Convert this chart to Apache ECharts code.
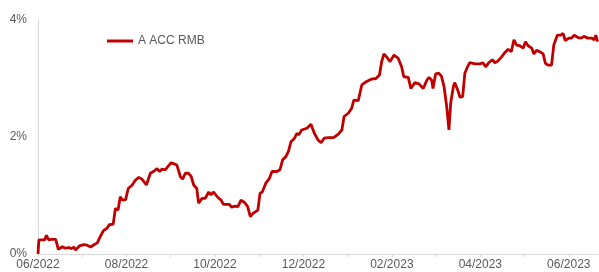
<!DOCTYPE html>
<html>
<head>
<meta charset="utf-8">
<script src="https://cdn.jsdelivr.net/npm/echarts@6/dist/echarts.min.js"></script>
<style>
  html, body { margin: 0; padding: 0; background: #fff; }
  #chart { width: 599px; height: 272px; }
</style>
</head>
<body>
<div id="chart"></div>
<script>
// x axis is measured in months since 06/2022
const monthLabels = ['06/2022', '07/2022', '08/2022', '09/2022', '10/2022', '11/2022', '12/2022',
  '01/2023', '02/2023', '03/2023', '04/2023', '05/2023', '06/2023'];
const yTicks = [0, 2, 4];
const seriesName = 'A ACC RMB';

const months = [
  0, 0.02, 0.15, 0.19, 0.24, 0.30, 0.40, 0.46, 0.55, 0.62, 0.70, 0.76, 0.81, 0.85, 0.89, 0.94,
  1.03, 1.11, 1.19, 1.25, 1.34, 1.41, 1.48, 1.56, 1.61, 1.70, 1.75, 1.81, 1.86, 1.91, 1.98,
  2.04, 2.13, 2.20, 2.28, 2.35, 2.45, 2.54, 2.61, 2.69, 2.75, 2.80, 2.88, 2.93,
  3.01, 3.08, 3.14, 3.22, 3.27, 3.33, 3.40, 3.46, 3.52, 3.59, 3.63, 3.71, 3.78, 3.86, 3.91, 3.97,
  4.06, 4.14, 4.19, 4.32, 4.38, 4.46, 4.52, 4.59, 4.67, 4.74, 4.80, 4.87, 4.97,
  5.02, 5.07, 5.15, 5.23, 5.29, 5.40, 5.47, 5.53, 5.60, 5.66, 5.72, 5.80, 5.85, 5.90, 5.96,
  6.08, 6.17, 6.25, 6.33, 6.40, 6.47, 6.56, 6.68, 6.79, 6.87, 6.92,
  7.02, 7.09, 7.14, 7.24, 7.32, 7.43, 7.54, 7.64, 7.72, 7.77, 7.82, 7.88, 7.96,
  8.05, 8.14, 8.22, 8.27, 8.37, 8.43, 8.52, 8.61, 8.71, 8.79, 8.84, 8.90, 8.93, 8.99,
  9.06, 9.12, 9.18, 9.24, 9.29, 9.33, 9.39, 9.42, 9.49, 9.54, 9.60, 9.65, 9.71, 9.76, 9.88, 9.99,
  10.06, 10.12, 10.19, 10.27, 10.33, 10.40, 10.48, 10.54, 10.63, 10.70, 10.76, 10.82, 10.89, 10.97,
  11.02, 11.08, 11.16, 11.21, 11.27, 11.34, 11.42, 11.47, 11.53, 11.61, 11.66, 11.70, 11.74, 11.82, 11.87, 11.92,
  12.00, 12.06, 12.12, 12.21, 12.28, 12.34, 12.43, 12.52, 12.57, 12.61, 12.65
];

const returns = [
  0.00, 0.24, 0.24, 0.32, 0.24, 0.25, 0.25, 0.08, 0.125, 0.10, 0.11, 0.09, 0.12, 0.07, 0.07, 0.14,
  0.16, 0.15, 0.12, 0.15, 0.19, 0.30, 0.40, 0.44, 0.50, 0.51, 0.78, 0.75, 0.98, 0.92, 0.93,
  1.12, 1.18, 1.26, 1.31, 1.28, 1.18, 1.38, 1.41, 1.46, 1.41, 1.45, 1.44, 1.49,
  1.56, 1.54, 1.52, 1.32, 1.28, 1.38, 1.38, 1.33, 1.18, 1.12, 0.87, 0.95, 0.95, 1.06, 1.01, 1.06,
  0.97, 0.92, 0.85, 0.85, 0.80, 0.82, 0.81, 0.92, 0.88, 0.81, 0.64, 0.70, 0.75,
  1.04, 1.06, 1.21, 1.29, 1.41, 1.41, 1.44, 1.61, 1.66, 1.75, 1.92, 1.98, 2.06, 2.04, 2.12,
  2.15, 2.22, 2.06, 1.95, 1.90, 1.98, 1.99, 1.99, 2.05, 2.12, 2.35,
  2.41, 2.49, 2.63, 2.62, 2.89, 2.95, 2.99, 3.00, 3.06, 3.29, 3.42, 3.37, 3.29,
  3.40, 3.35, 3.20, 3.03, 3.02, 2.83, 2.93, 2.91, 2.83, 2.97, 3.02, 2.97, 2.83, 3.08,
  3.09, 3.04, 2.86, 2.52, 2.12, 2.58, 2.86, 2.93, 2.80, 2.68, 2.69, 3.09, 3.20, 3.27, 3.25, 3.25,
  3.27, 3.20, 3.27, 3.32, 3.27, 3.30, 3.37, 3.43, 3.50, 3.46, 3.66, 3.57, 3.56, 3.52,
  3.63, 3.56, 3.52, 3.42, 3.48, 3.46, 3.42, 3.26, 3.23, 3.23, 3.57, 3.60, 3.74, 3.74, 3.77, 3.65,
  3.69, 3.69, 3.74, 3.70, 3.69, 3.72, 3.69, 3.69, 3.66, 3.74, 3.63
];

const chart = echarts.init(document.getElementById('chart'), null, { renderer: 'canvas' });

const labelStyle = { color: '#595959', fontFamily: 'Liberation Sans, Arial, sans-serif', fontSize: 12 };

chart.setOption({
  animation: false,
  backgroundColor: '#fff',
  grid: { left: 38, right: 1, top: 20, bottom: 18, containLabel: false },
  legend: {
    show: true,
    left: 102,
    top: 30,
    icon: 'rect',
    itemWidth: 26,
    itemHeight: 3,
    textStyle: labelStyle,
    data: [seriesName]
  },
  xAxis: {
    type: 'value',
    min: 0,
    max: 12.66,
    interval: 1,
    axisLine: { show: true, lineStyle: { color: '#d9d9d9', width: 1 } },
    axisTick: { show: true, length: 3, lineStyle: { color: '#d9d9d9' } },
    splitLine: { show: false },
    axisLabel: {
      ...labelStyle,
      margin: 5,
      showMaxLabel: false,
      formatter: v => (v % 2 === 0 && monthLabels[v]) ? monthLabels[v] : ''
    }
  },
  yAxis: {
    type: 'value',
    min: yTicks[0],
    max: yTicks[yTicks.length - 1],
    interval: 2,
    axisLine: { show: true, lineStyle: { color: '#d9d9d9', width: 1 } },
    axisTick: { show: false },
    splitLine: { show: false },
    axisLabel: { ...labelStyle, margin: 11, formatter: v => v + '%' }
  },
  series: [{
    name: seriesName,
    type: 'line',
    data: months.map((m, i) => [m, returns[i]]),
    showSymbol: false,
    symbol: 'none',
    lineStyle: { color: '#c00000', width: 2.8 },
    itemStyle: { color: '#c00000' }
  }]
});
</script>
</body>
</html>
